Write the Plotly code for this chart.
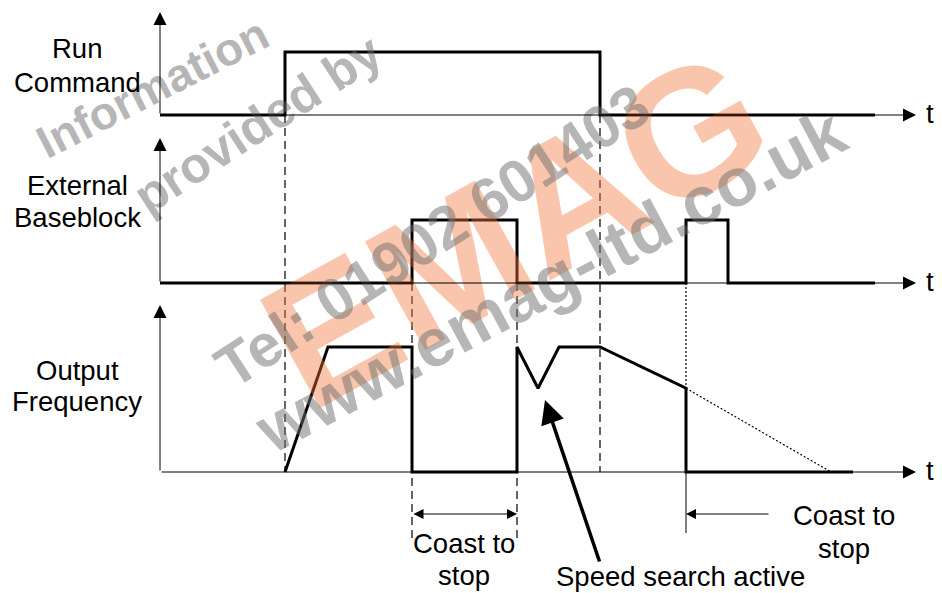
import plotly.graph_objects as go

# ---------------- data ----------------
row_names = [["Run", "Command"], ["External", "Baseblock"], ["Output", "Frequency"]]
time_label = "t"

run_t = [160, 285, 285, 600, 600, 875]
run_v = [0, 0, 1, 1, 0, 0]

bb_t = [160, 412, 412, 517, 517, 686, 686, 728, 728, 875]
bb_v = [0, 0, 1, 1, 0, 0, 1, 1, 0, 0]

freq_t = [285, 328, 412, 412, 517, 517, 538, 559, 600, 686, 686, 853]
freq_v = [0, 1, 1, 0, 0, 1, 0.67, 1, 1, 0.67, 0, 0]

coast_t = [686, 831]
coast_v = [0.67, 0]

coast_note = ["Coast to", "stop"]
speed_note = "Speed search active"

watermark = ["Information", "provided by", "EMAG", "Tel: 01902 601403", "www.emag-ltd.co.uk"]

# ---------------- layout geometry (style) ----------------
W, H = 942, 593
X0, XEND = 160, 916
ROW_BASE = [115, 283, 472]
ROW_HIGH = [63, 63, 125]
ROW_TOP = [12, 138, 305]
FONT = "Liberation Sans, Arial, sans-serif"
FS = 27.5

fig = go.Figure()

def yr(i):
    b, h = ROW_BASE[i], ROW_HIGH[i]
    return [(b - H) / h, b / h]

for i, (t, v) in enumerate([(run_t, run_v), (bb_t, bb_v), (freq_t, freq_v)]):
    fig.add_trace(go.Scatter(x=t, y=v, mode="lines", yaxis="y%d" % (i + 2),
                             line=dict(color="black", width=3), hoverinfo="skip",
                             showlegend=False))
fig.add_trace(go.Scatter(x=coast_t, y=coast_v, mode="lines", yaxis="y4",
                         line=dict(color="black", width=1.2, dash="2px,2px"),
                         hoverinfo="skip", showlegend=False))

shapes = []
def vline(x, y0, y1, dash, width=1.2):
    shapes.append(dict(type="line", xref="x", yref="y", x0=x, x1=x, y0=y0, y1=y1,
                       line=dict(color="black", width=width, dash=dash)))

vline(run_t[1], ROW_BASE[0], ROW_BASE[2], "8px,5px")
vline(run_t[3], ROW_BASE[0], ROW_BASE[2], "8px,5px")
vline(bb_t[1], ROW_BASE[1], 540, "8px,5px")
vline(bb_t[3], ROW_BASE[1], 540, "8px,5px")
vline(bb_t[5], ROW_BASE[1], 387, "2px,2px")
vline(bb_t[5], ROW_BASE[2], 533, "solid", 1)

ann = []
# watermark (faint, rotated)
wm_gray = "rgba(110,110,110,0.5)"
wm = [
    (watermark[0], 152, 88, -27, 46, wm_gray),
    (watermark[1], 258, 124, -33, 50, wm_gray),
    (watermark[2], 515, 228, -29, 180, "rgba(240,120,60,0.42)"),
    (watermark[3], 432, 236, -33, 60, wm_gray),
    (watermark[4], 550, 280, -28, 68, wm_gray),
]
for txt, x, y, ang, sz, col in wm:
    ann.append(dict(text="<b>%s</b>" % txt, x=x, y=y, xref="x", yref="y", showarrow=False,
                    textangle=ang, font=dict(family=FONT, size=sz, color=col)))

def arrow(x, y, ax, ay, width=1, size=2.6, both=False):
    ann.append(dict(text="", x=x, y=y, ax=ax, ay=ay, xref="x", yref="y", axref="x", ayref="y",
                    showarrow=True, arrowhead=2, arrowsize=size, arrowwidth=width,
                    arrowcolor="black", arrowside="end+start" if both else "end",
                    startarrowhead=2, startarrowsize=size, standoff=0, startstandoff=0))

for i in range(3):
    arrow(XEND, ROW_BASE[i], X0, ROW_BASE[i])
    arrow(X0, ROW_TOP[i], X0, ROW_BASE[i])
    ann.append(dict(text=time_label, x=930, y=ROW_BASE[i] - 2, xref="x", yref="y",
                    showarrow=False, font=dict(family=FONT, size=FS, color="black")))

label_y = [(48, 82), (185, 217), (370, 401)]
for (l1, l2), (y1, y2) in zip(row_names, label_y):
    for txt, yy in ((l1, y1), (l2, y2)):
        ann.append(dict(text=txt, x=77, y=yy, xref="x", yref="y", showarrow=False,
                        font=dict(family=FONT, size=FS, color="black")))

# coast-to-stop indicators
arrow(bb_t[3], 514, bb_t[1], 514, width=1, size=2, both=True)
arrow(bb_t[5], 514, 770, 514, width=1, size=2)
for txt, x, y in ((coast_note[0], 464, 543), (coast_note[1], 464, 575),
                  (coast_note[0], 844, 515), (coast_note[1], 844, 548)):
    ann.append(dict(text=txt, x=x, y=y, xref="x", yref="y", showarrow=False,
                    font=dict(family=FONT, size=FS, color="black")))

# speed search arrow
arrow(545, 400, 600, 563, width=3.5, size=1.35)
ann.append(dict(text=speed_note, x=680, y=576, xref="x", yref="y", showarrow=False,
                font=dict(family=FONT, size=FS, color="black")))

hidden = dict(visible=False, showgrid=False, zeroline=False, fixedrange=True)
fig.update_layout(
    width=W, height=H, margin=dict(l=0, r=0, t=0, b=0),
    paper_bgcolor="white", plot_bgcolor="white", showlegend=False,
    xaxis=dict(range=[0, W], **hidden),
    yaxis=dict(range=[H, 0], **hidden),
    yaxis2=dict(range=yr(0), overlaying="y", **hidden),
    yaxis3=dict(range=yr(1), overlaying="y", **hidden),
    yaxis4=dict(range=yr(2), overlaying="y", **hidden),
    shapes=shapes, annotations=ann,
)
fig.write_html("out.html", config={"displayModeBar": False},
               post_script="document.body.style.margin='0';document.body.style.overflow='hidden';")
